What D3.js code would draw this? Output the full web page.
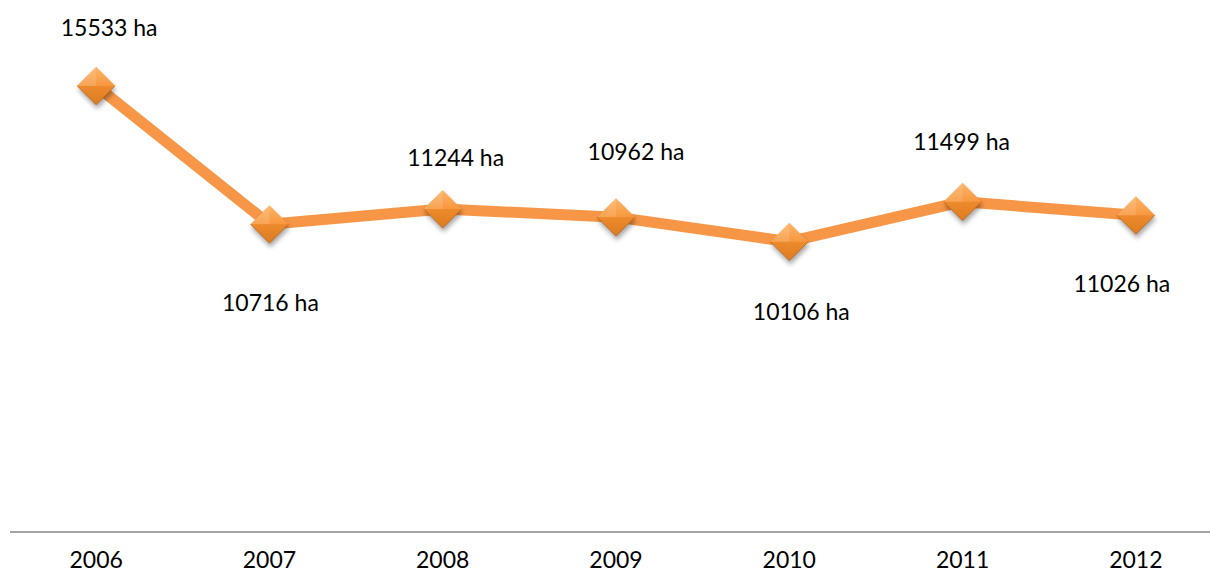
<!DOCTYPE html>
<html lang="en">
<head>
    <meta charset="UTF-8">
    <title>Area (ha) 2006-2012</title>
    <script src="https://d3js.org/d3.v7.min.js"></script>
    <style>
        body { margin: 0; background: #fff; }
        .label, .tick text {
            font-family: Lato, "Open Sans", sans-serif;
            font-size: 23px;
            fill: #000;
        }
    </style>
</head>
<body>
    <div id="chart"></div>
    <script>
        // data
        const years = ["2006", "2007", "2008", "2009", "2010", "2011", "2012"];
        const hectares = [15533, 10716, 11244, 10962, 10106, 11499, 11026];
        // label nudges (px) relative to each marker, like the hand placed labels
        const labelDx = [13, 1, 13, 20, 12, -1, -14];
        const labelDy = [-50, 87, -43, -57, 78, -52, 77];

        const width = 1210, height = 577;
        const svg = d3.select("#chart").append("svg")
            .attr("width", width)
            .attr("height", height);

        const x = d3.scaleBand().domain(years).range([9.5, 1222.5]);
        const y = d3.scaleLinear().domain([0, 18000]).range([532, 15]);
        const cx = d => x(d) + x.bandwidth() / 2;

        const defs = svg.append("defs");
        const grad = defs.append("linearGradient")
            .attr("id", "diamondFill")
            .attr("x1", 0).attr("y1", 0).attr("x2", 0).attr("y2", 1);
        grad.append("stop").attr("offset", "0%").attr("stop-color", "#fcb567");
        grad.append("stop").attr("offset", "49%").attr("stop-color", "#f8983f");
        grad.append("stop").attr("offset", "51%").attr("stop-color", "#ec8a2c");
        grad.append("stop").attr("offset", "100%").attr("stop-color", "#dc7b20");

        const blur = defs.append("filter").attr("id", "shadow")
            .attr("x", "-50%").attr("y", "-50%").attr("width", "200%").attr("height", "200%");
        blur.append("feGaussianBlur").attr("stdDeviation", 2.5);

        // x axis line
        svg.append("line")
            .attr("x1", 10).attr("x2", width)
            .attr("y1", y(0)).attr("y2", y(0))
            .attr("stroke", "#868686")
            .attr("stroke-width", 1.5);

        const xAxis = svg.append("g")
            .attr("transform", `translate(0,${y(0)})`)
            .call(d3.axisBottom(x).tickSize(0).tickPadding(36));
        xAxis.select(".domain").remove();
        xAxis.selectAll("text").attr("dy", 0);

        const data = years.map((yr, i) => ({ year: yr, value: hectares[i], i }));

        svg.append("path")
            .datum(data)
            .attr("fill", "none")
            .attr("stroke", "#f79646")
            .attr("stroke-width", 11)
            .attr("stroke-linejoin", "round")
            .attr("d", d3.line().x(d => cx(d.year)).y(d => y(d.value)));

        const r = 19;
        const diamond = `M0,${-r}L${r},0L0,${r}L${-r},0Z`;

        const marker = svg.append("g").selectAll("g")
            .data(data)
            .join("g")
            .attr("transform", d => `translate(${cx(d.year)},${y(d.value)})`);

        marker.append("path")
            .attr("d", diamond)
            .attr("transform", "translate(1,4)")
            .attr("fill", "#000")
            .attr("opacity", 0.35)
            .attr("filter", "url(#shadow)");

        marker.append("path")
            .attr("d", diamond)
            .attr("fill", "url(#diamondFill)");

        // bevel: lighter top-left facet, darker bottom edge
        marker.append("path")
            .attr("d", `M0,${-r}L${-r},0L0,0Z`)
            .attr("fill", "#fff")
            .attr("opacity", 0.12);
        marker.append("path")
            .attr("d", `M${-r},0L0,${r}L${r},0`)
            .attr("fill", "none")
            .attr("stroke", "#b8631a")
            .attr("stroke-width", 1)
            .attr("opacity", 0.7);

        svg.append("g").selectAll("text")
            .data(data)
            .join("text")
            .attr("class", "label")
            .attr("text-anchor", "middle")
            .attr("x", d => cx(d.year) + labelDx[d.i])
            .attr("y", d => y(d.value) + labelDy[d.i])
            .text(d => `${d.value} ha`);
    </script>
</body>
</html>
